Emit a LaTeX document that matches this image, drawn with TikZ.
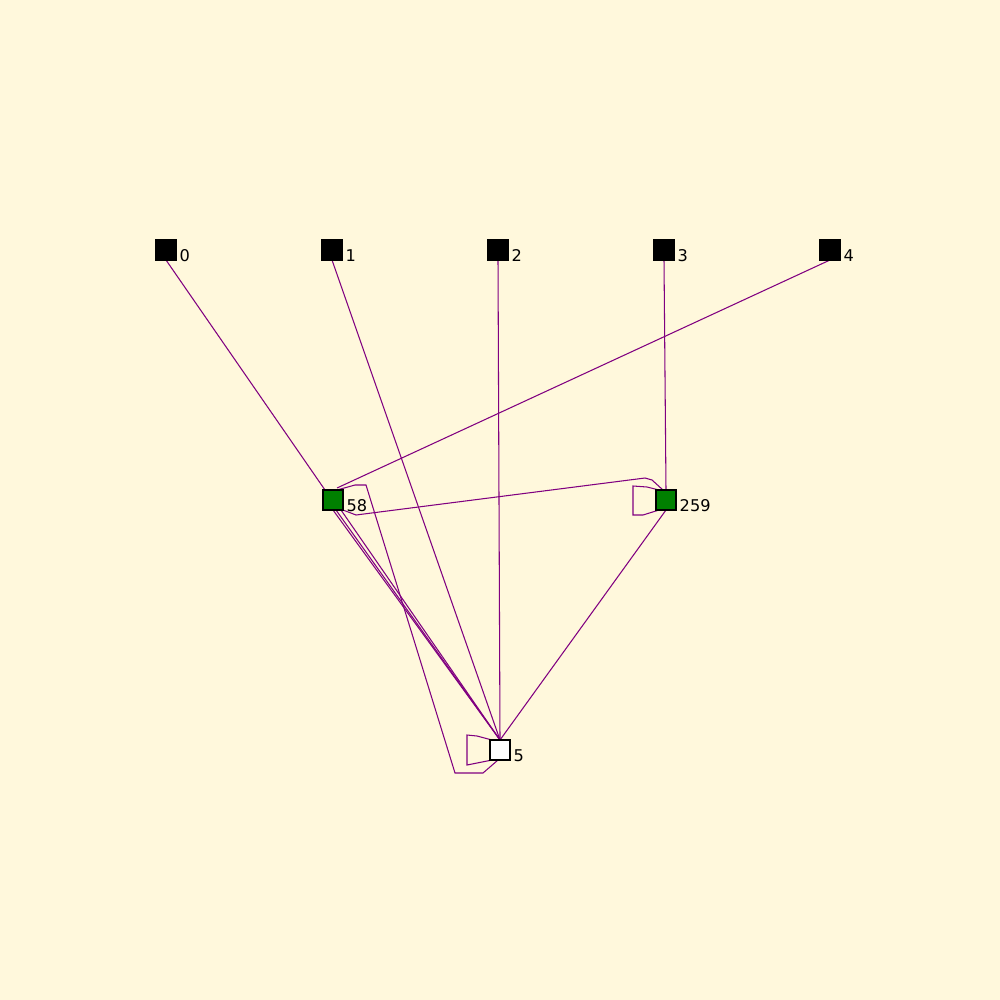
\documentclass[tikz,border=0pt]{standalone}
\usepackage{fontspec}
\setmainfont{DejaVu Sans}
\usetikzlibrary{calc}
\definecolor{bg}{RGB}{255,248,220}
\definecolor{edgec}{RGB}{128,0,128}
\definecolor{gnode}{RGB}{0,128,0}
\pgfdeclarelayer{bgfill}
\pgfdeclarelayer{edges}
\pgfsetlayers{bgfill,edges,main}
\begin{document}
\begin{tikzpicture}[x=0.01cm,y=-0.01cm,
  box/.style={draw=black,line width=0.3pt,minimum size=0.2cm,inner sep=0pt,outer sep=0pt},
  lbl/.style={anchor=base west,inner sep=0pt,font=\fontsize{4.6}{5}\selectfont},
  edge/.style={draw=edgec,line width=0.3pt}]
\begin{pgfonlayer}{bgfill}
\fill[bg] (0,0) rectangle (1000,1000);
\end{pgfonlayer}
\useasboundingbox (0,0) rectangle (1000,1000);
% nodes
\node[box,fill=black] (n0) at (166,250) {};
\node[box,fill=black] (n1) at (332,250) {};
\node[box,fill=black] (n2) at (498,250) {};
\node[box,fill=black] (n3) at (664,250) {};
\node[box,fill=black] (n4) at (830,250) {};
\node[box,fill=gnode] (n58) at (333,500) {};
\node[box,fill=gnode] (n259) at (666,500) {};
\node[box,fill=white] (n5) at (500,750) {};
% labels
\node[lbl] (l0) at ($(n0)+(13,11)$) {0};
\node[lbl] (l1) at ($(n1)+(13,11)$) {1};
\node[lbl] (l2) at ($(n2)+(13,11)$) {2};
\node[lbl] (l3) at ($(n3)+(13,11)$) {3};
\node[lbl] (l4) at ($(n4)+(13,11)$) {4};
\node[lbl] (l58) at ($(n58)+(13,11)$) {58};
\node[lbl] (l259) at ($(n259)+(13,11)$) {259};
\node[lbl] (l5) at ($(n5)+(13,11)$) {5};
% edges
\begin{pgfonlayer}{edges}
\path[edge] (n0.south) -- ($(n58.north west)+(2,0)$);
\path[edge] (n1.south) -- (n5.north);
\path[edge] (n2.south) -- (n5.north);
\path[edge] (n3.south) -- (n259.north);
\path[edge] (n4.south) -- ($(n58.north east)+(-6,-2)$);
\path[edge] (n259.south) -- (n5.north);
\path[edge] (n58.south) -- (n5.north);
\path[edge] ($(n58.south)+(3,0)$) -- (n5.north);
\path[edge] ($(n58.south east)+(-2,0)$) -- (n5.north);
\path[edge] (n58.south east) -- (356,515) -- (645,478) -- (652,480) -- ($(n259.north)+(-3,0)$);
\path[edge] ($(n259.north west)+(3,0)$) -- (647,487) -- (633,486) -- (633,515) -- (643,515) -- ($(n259.south west)+(3,0)$);
\path[edge] ($(n5.north west)+(2,0)$) -- (477,736) -- (467,735) -- (467,765) -- (477,763) -- ($(n5.south west)+(2,0)$);
\path[edge] ($(n58.north east)+(-6,0)$) -- (355,485) -- (366,485) -- (455,773) -- (483,773) -- ($(n5.south)+(-2,0)$);
\end{pgfonlayer}
\end{tikzpicture}
\end{document}
